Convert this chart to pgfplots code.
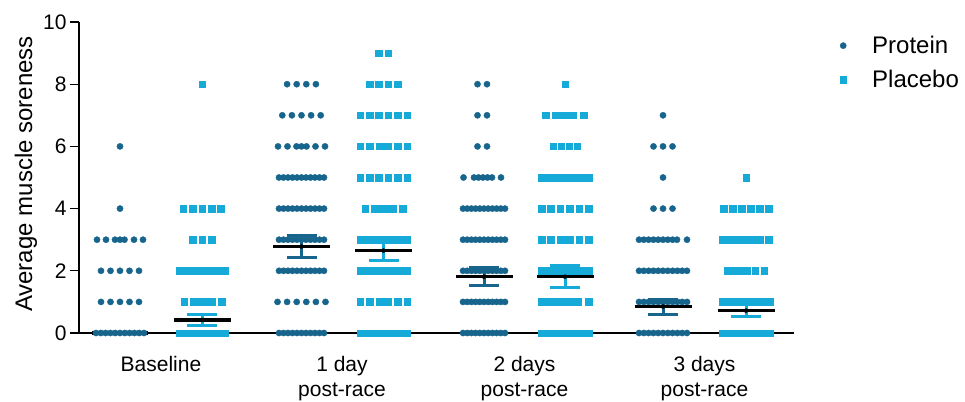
\documentclass[border=0pt]{standalone}
\usepackage{pgfplots}
\pgfplotsset{compat=1.18}
\usepackage{pgfplotstable}
\usepackage{fontspec}
\setmainfont{Liberation Sans}
\definecolor{prot}{HTML}{17658C}
\definecolor{plac}{HTML}{16AAD8}

% x in pixel-like units (group centres 161, 342, 524.5, 704.5)
\pgfplotstableread{
x y
96 0
100.8 0
105.6 0
110.4 0
115.2 0
120 0
124.8 0
129.6 0
134.4 0
139.2 0
144 0
101 1
110.5 1
120 1
129.5 1
139 1
101 2
110.5 2
120 2
129.5 2
139 2
97 3
106 3
115 3
120 3
124.5 3
134 3
143 3
120 4
120 6
279 0
283.5 0
288 0
292.5 0
297 0
301.5 0
306 0
310.5 0
315 0
319.5 0
324 0
277.5 1
287.1 1
296.7 1
306.3 1
315.9 1
325.5 1
279 2
283.5 2
288 2
292.5 2
297 2
301.5 2
306 2
310.5 2
315 2
319.5 2
324 2
279 3
283.5 3
288 3
292.5 3
297 3
301.5 3
306 3
310.5 3
315 3
319.5 3
324 3
279 4
283.5 4
288 4
292.5 4
297 4
301.5 4
306 4
310.5 4
315 4
319.5 4
324 4
279 5
283.5 5
288 5
292.5 5
297 5
301.5 5
306 5
310.5 5
315 5
319.5 5
324 5
278 6
287.5 6
296.5 6
301.5 6
306.5 6
315.5 6
325 6
282.3 7
291.9 7
301.5 7
311.1 7
320.7 7
287.1 8
296.7 8
306.3 8
315.9 8
463 0
467.2 0
471.4 0
475.6 0
479.8 0
484 0
488.2 0
492.4 0
496.6 0
500.8 0
505 0
463 1
467.2 1
471.4 1
475.6 1
479.8 1
484 1
488.2 1
492.4 1
496.6 1
500.8 1
505 1
463 2
467.2 2
471.4 2
475.6 2
479.8 2
484 2
488.2 2
492.4 2
496.6 2
500.8 2
505 2
463 3
467.2 3
471.4 3
475.6 3
479.8 3
484 3
488.2 3
492.4 3
496.6 3
500.8 3
505 3
463 4
467.2 4
471.4 4
475.6 4
479.8 4
484 4
488.2 4
492.4 4
496.6 4
500.8 4
505 4
463.5 5
474 5
478.5 5
483 5
487.5 5
492 5
501 5
477.5 6
487 6
477.5 7
487 7
477.5 8
487 8
639 0
643.8 0
648.6 0
653.4 0
658.2 0
663 0
667.8 0
672.6 0
677.4 0
682.2 0
687 0
639 1
643.8 1
648.6 1
653.4 1
658.2 1
663 1
667.8 1
672.6 1
677.4 1
682.2 1
687 1
639 2
643.8 2
648.6 2
653.4 2
658.2 2
663 2
667.8 2
672.6 2
677.4 2
682.2 2
687 2
639 3
643.8 3
648.6 3
653.4 3
658.2 3
663 3
667.8 3
672.6 3
677 3
687 3
653.5 4
663 4
672.5 4
663 5
653.5 6
663 6
672.5 6
663 7
}\protdata

\pgfplotstableread{
x y
179.5 0
184.5 0
189.5 0
194.5 0
199.5 0
204.5 0
209.5 0
214.5 0
219.5 0
224.5 0
184 1
193.3 1
197.9 1
202.5 1
207 1
211.6 1
221.6 1
179.5 2
184.5 2
189.5 2
194.5 2
199.5 2
204.5 2
209.5 2
214.5 2
219.5 2
224.5 2
192.6 3
202 3
211.4 3
183.2 4
192.6 4
202 4
211.4 4
220.8 4
202 8
360.5 0
365.6 0
370.7 0
375.8 0
380.9 0
386 0
391.1 0
396.2 0
401.3 0
406.5 0
360 1
369.4 1
379.5 1
383.5 1
387.5 1
397.6 1
407 1
360.5 2
365.6 2
370.7 2
375.8 2
380.9 2
386 2
391.1 2
396.2 2
401.3 2
406.5 2
360.5 3
365.6 3
370.7 3
375.8 3
380.9 3
386 3
391.1 3
396.2 3
401.3 3
406.5 3
365 4
374.5 4
379 4
383.5 4
388 4
393 4
402.5 4
360 5
369.4 5
378.8 5
388.2 5
397.6 5
407 5
360 6
369.4 6
379.5 6
383.5 6
387.5 6
397.6 6
407 6
360 7
369.4 7
378.8 7
388.2 7
397.6 7
407 7
369.4 8
378.8 8
388.2 8
397.6 8
378.8 9
388.2 9
541.5 0
546.7 0
551.9 0
557.1 0
562.3 0
567.5 0
572.7 0
577.9 0
583.1 0
588.5 0
541.5 1
546.7 1
551.9 1
557.1 1
562.3 1
567.5 1
572.7 1
577.9 1
588.5 1
541.5 2
546.7 2
551.9 2
557.1 2
562.3 2
567.5 2
572.7 2
577.9 2
583.1 2
588.5 2
541.5 3
550.9 3
560.3 3
565 3
569.7 3
579.1 3
588.5 3
541.5 4
550.9 4
560.3 4
569.7 4
579.1 4
588.5 4
541.5 5
546.7 5
551.9 5
557.1 5
562.3 5
567.5 5
572.7 5
577.9 5
583.1 5
588.5 5
553 6
561 6
569 6
577 6
545.8 7
555 7
559.6 7
564.2 7
568.8 7
573.3 7
583.5 7
565 8
722.5 0
727.7 0
732.9 0
738.1 0
743.3 0
748.5 0
753.7 0
758.9 0
764.1 0
769.5 0
722.5 1
727.7 1
732.9 1
738.1 1
743.3 1
748.5 1
753.7 1
758.9 1
764.1 1
769.5 1
727.5 2
732.3 2
737 2
741.8 2
746.5 2
755 2
764 2
722.5 3
727.8 3
733.1 3
738.4 3
743.7 3
749 3
754.3 3
759.6 3
768.5 3
723.5 4
732.5 4
741.5 4
750.5 4
759.5 4
768.5 4
746 5
}\placdata

\begin{document}
\begin{tikzpicture}
\useasboundingbox (-79pt,-68pt) rectangle (886pt,333pt);
\begin{axis}[
  scale only axis, width=715pt, height=311pt,
  xmin=79, xmax=794, ymin=0, ymax=10,
  clip=false,
  axis x line=bottom, axis y line=left,
  axis line style={-, line width=1.3pt, black},
  xtick={161,342,524.5,704.5},
  xticklabels={Baseline, 1 day\\post-race, 2 days\\post-race, 3 days\\post-race},
  x tick style={draw=none},
  xticklabel style={align=center, font=\fontsize{21}{25}\selectfont, yshift=-11pt},
  ytick={0,2,...,10},
  y tick style={line width=1.3pt, black},
  tick align=outside, major tick length=9pt,
  yticklabel style={font=\fontsize{21}{25}\selectfont},
  /pgf/number format/assume math mode=true,
  ylabel={Average muscle soreness},
  ylabel style={at={(axis description cs:-0.0657,0.511)}, anchor=base, font=\fontsize{24}{28}\selectfont},
  legend style={draw=none, fill=none, inner sep=0pt, at={(axis description cs:1,1)}, anchor=north west, xshift=45pt, yshift=-12pt, font=\fontsize{24}{28}\selectfont, row sep=11pt},
  legend cell align=left,
  legend image code/.code={\path[draw=none] (0pt,0pt) -- (31pt,0pt); \path[#1, draw=none] plot[only marks] coordinates {(4pt,0pt)};},
]
\addplot[only marks, mark=*, mark size=3.1pt, color=prot, mark options={draw=prot, fill=prot}] table {\protdata};
\addlegendentry{Protein}
\addplot[only marks, mark=square*, mark size=3.3pt, color=plac, mark options={draw=plac, fill=plac}] table {\placdata};
\addlegendentry{Placebo}

% SEM error bars
\addplot[forget plot, only marks, mark=none, error bars/.cd, y dir=both, y explicit,
  error bar style={draw=prot, line width=3pt},
  error mark options={rotate=90, draw=prot, line width=3pt, mark size=15pt}]
  coordinates {(301.5,2.78) +- (0,0.35) (484,1.81) +- (0,0.29) (663,0.85) +- (0,0.24)};
\addplot[forget plot, only marks, mark=none, error bars/.cd, y dir=both, y explicit,
  error bar style={draw=plac, line width=3pt},
  error mark options={rotate=90, draw=plac, line width=3pt, mark size=15pt}]
  coordinates {(202,0.42) +- (0,0.17) (383.5,2.65) +- (0,0.32) (565,1.81) +- (0,0.35) (746,0.72) +- (0,0.2)};

% means
\addplot[forget plot, black, line width=3.2pt] coordinates {(92,0) (148,0)};
\addplot[forget plot, black, line width=3.2pt] coordinates {(173.5,0.42) (230.5,0.42)};
\addplot[forget plot, black, line width=3.2pt] coordinates {(273,2.78) (330,2.78)};
\addplot[forget plot, black, line width=3.2pt] coordinates {(355,2.65) (412,2.65)};
\addplot[forget plot, black, line width=3.2pt] coordinates {(455.5,1.81) (512.5,1.81)};
\addplot[forget plot, black, line width=3.2pt] coordinates {(536.5,1.81) (593.5,1.81)};
\addplot[forget plot, black, line width=3.2pt] coordinates {(634.5,0.85) (691.5,0.85)};
\addplot[forget plot, black, line width=3.2pt] coordinates {(717.5,0.72) (774.5,0.72)};
\end{axis}
\end{tikzpicture}
\end{document}
